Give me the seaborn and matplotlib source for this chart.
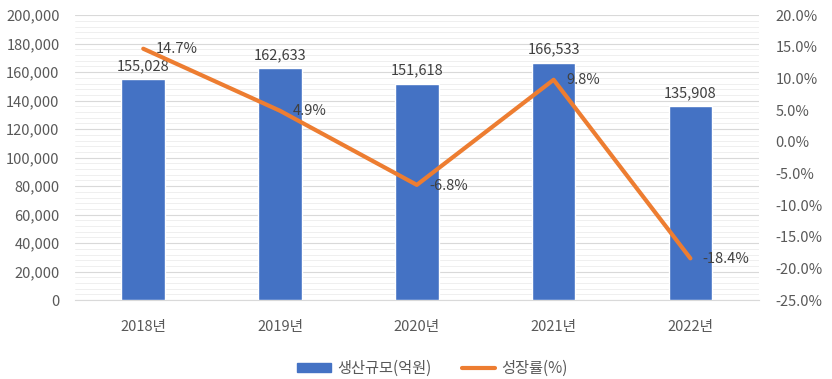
import seaborn as sns
import matplotlib.pyplot as plt
import pandas as pd
from matplotlib.ticker import MultipleLocator, FuncFormatter
from matplotlib.patches import Patch
from matplotlib.lines import Line2D

years = ["2018년", "2019년", "2020년", "2021년", "2022년"]
production = [155028, 162633, 151618, 166533, 135908]
growth = [14.7, 4.9, -6.8, 9.8, -18.4]

df = pd.DataFrame({"year": years, "prod": production, "growth": growth})

sns.set_style("white")
plt.rcParams['font.family'] = ['Noto Sans CJK KR', 'DejaVu Sans']

blue = "#4472C4"
orange = "#ED7D31"
gray = "#595959"

fig, ax = plt.subplots(figsize=(8.32, 3.79), dpi=100)
fig.subplots_adjust(left=0.09, right=0.912, top=0.96, bottom=0.208)

sns.barplot(data=df, x="year", y="prod", color=blue, width=0.32, saturation=1, ax=ax, zorder=3)
ax.set_ylim(0, 200000)
ax.yaxis.set_major_locator(MultipleLocator(20000))
ax.yaxis.set_minor_locator(MultipleLocator(4000))
ax.yaxis.set_major_formatter(FuncFormatter(lambda v, p: f"{int(v):,}"))
ax.grid(axis="y", which="major", color="#D9D9D9", linewidth=0.8, zorder=0)
ax.grid(axis="y", which="minor", color="#EDEDED", linewidth=0.6, zorder=0)
ax.set_axisbelow(True)
ax.set_xlabel("")
ax.set_ylabel("")
ax.tick_params(axis="y", which="both", length=0, labelsize=10.5, labelcolor=gray, pad=11)
ax.tick_params(axis="x", length=0, labelsize=10.5, labelcolor=gray, pad=14)
for s in ax.spines.values():
    s.set_visible(False)
ax.spines["bottom"].set_visible(True)
ax.spines["bottom"].set_color("#D9D9D9")

for i, v in enumerate(production):
    ax.text(i, v + 4500, f"{v:,}", ha="center", va="bottom", fontsize=10.5, color="#404040")

ax2 = ax.twinx()
sns.lineplot(x=list(range(len(years))), y=growth, color=orange, linewidth=3.0, ax=ax2, zorder=4)
ax2.set_ylim(-25, 20)
ax2.yaxis.set_major_locator(MultipleLocator(5))
ax2.yaxis.set_major_formatter(FuncFormatter(lambda v, p: f"{v:.1f}%"))
ax2.tick_params(axis="y", length=0, labelsize=10.5, labelcolor=gray, pad=12)
for s in ax2.spines.values():
    s.set_visible(False)
ax2.set_ylabel("")
ax2.set_xlim(-0.5, 4.5)
ax.set_xlim(-0.5, 4.5)

for i, g in enumerate(growth):
    ax2.text(i + 0.09, g - 0.1, f"{g}%", ha="left", va="center", fontsize=10.5, color="#404040")

handles = [Patch(facecolor=blue, edgecolor=blue), Line2D([0], [0], color=orange, linewidth=3.0)]
fig.legend(handles, ["생산규모(억원)", "성장률(%)"], loc="lower center", ncol=2,
           bbox_to_anchor=(0.52, -0.03), frameon=False, fontsize=11,
           handlelength=2.2, handleheight=0.5, handletextpad=0.4, columnspacing=2,
           labelcolor=gray)

fig.savefig("out.png", dpi=100)
